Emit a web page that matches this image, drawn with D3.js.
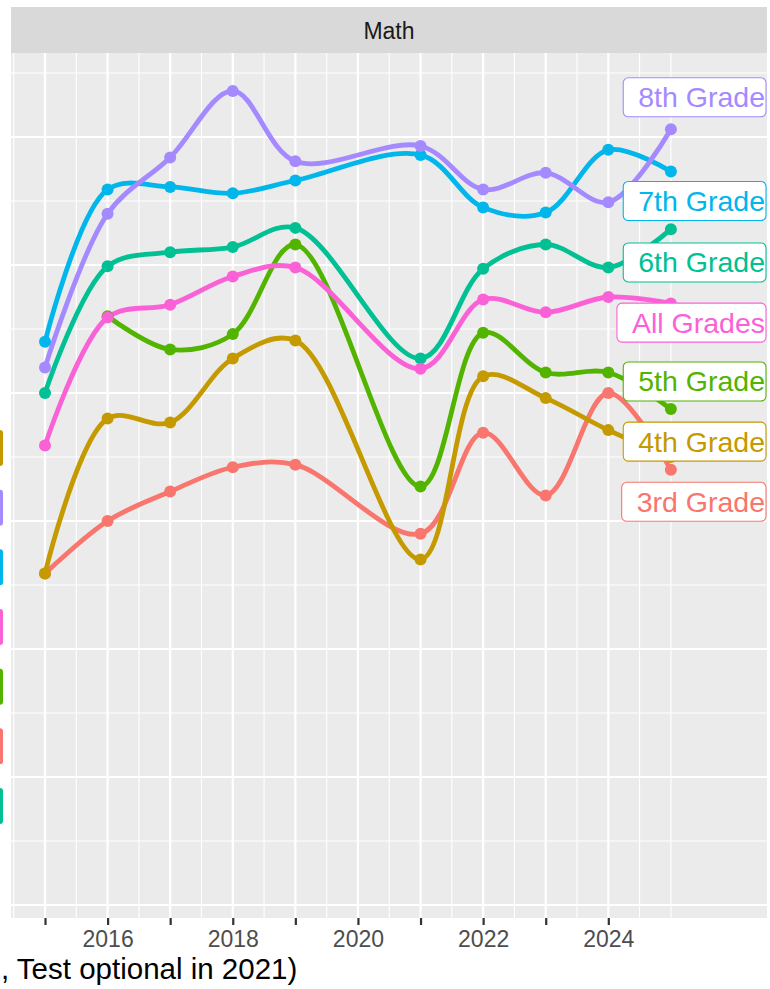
<!DOCTYPE html>
<html>
<head>
<meta charset="utf-8">
<script src="https://cdn.jsdelivr.net/npm/d3@7"></script>
<style>
  html, body { margin: 0; padding: 0; background: #ffffff; }
  svg { display: block; font-family: "Liberation Sans", Arial, Helvetica, sans-serif; }
</style>
</head>
<body>
<svg id="chart" width="770" height="989"></svg>
<script>
// ---------------- data ----------------
const years = [2015, 2016, 2017, 2018, 2019, 2021, 2022, 2023, 2024, 2025];
const seriesNames = ["3rd Grade", "4th Grade", "5th Grade", "6th Grade", "7th Grade", "8th Grade", "All Grades"];
const grade3 = [25.9, 30.0, 32.3, 34.2, 34.4, 29.0, 36.9, 32.0, 40.0, 34.0];
const grade4 = [25.9, 38.0, 37.7, 42.7, 44.1, 27.0, 41.3, 39.6, 37.1, 35.0];
const grade5 = [null, 46.0, 43.4, 44.6, 51.6, 32.7, 44.7, 41.6, 41.6, 38.75];
const grade6 = [40.0, 49.9, 51.0, 51.4, 52.9, 42.7, 49.7, 51.6, 49.8, 52.8];
const grade7 = [44.0, 55.9, 56.1, 55.6, 56.6, 58.6, 54.5, 54.1, 59.0, 57.3];
const grade8 = [42.0, 54.0, 58.4, 63.6, 58.1, 59.3, 55.9, 57.2, 54.9, 60.6];
const allGrades = [35.9, 45.9, 46.9, 49.1, 49.8, 41.9, 47.3, 46.3, 47.5, 47.0];
const seriesColors = ["#F8766D", "#C49A00", "#53B400", "#00C094", "#00B6EB", "#A58AFF", "#FB61D7"];
// repelled label positions (value units)
const labelValues = [31.5, 36.2, 40.9, 50.2, 55.0, 63.1, 45.5];
// legend order (as shown at left)
const legendOrder = ["4th Grade", "8th Grade", "7th Grade", "All Grades", "5th Grade", "3rd Grade", "6th Grade"];
const xTickYears = [2015, 2016, 2017, 2018, 2019, 2020, 2021, 2022, 2023, 2024];
const xMinorYears = [2014.5, 2015.5, 2016.5, 2017.5, 2018.5, 2019.5, 2020.5, 2021.5, 2022.5, 2023.5, 2024.5, 2025];
const yMajor = [0, 10, 20, 30, 40, 50, 60];
const yMinor = [5, 15, 25, 35, 45, 55, 65];
const facetTitle = "Math";
const captionText = ", Test optional in 2021)";

const seriesValues = [grade3, grade4, grade5, grade6, grade7, grade8, allGrades];

// ---------------- layout ----------------
const panel = { left: 11, right: 767, top: 53, bottom: 918 };
const strip = { top: 7, bottom: 53 };

const x = d3.scaleLinear().domain([2015, 2024]).range([45, 608.3]);
x.domain([x.invert(panel.left), x.invert(panel.right)]).range([panel.left, panel.right]);
const y = d3.scaleLinear().domain([0, 65]).range([905, 73]);
y.domain([y.invert(panel.bottom), y.invert(panel.top)]).range([panel.bottom, panel.top]);

const svg = d3.select("#chart");

// strip
svg.append("rect")
  .attr("x", panel.left).attr("y", strip.top)
  .attr("width", panel.right - panel.left).attr("height", strip.bottom - strip.top)
  .attr("fill", "#D9D9D9");
svg.append("text")
  .attr("x", (panel.left + panel.right) / 2).attr("y", 39)
  .attr("text-anchor", "middle").attr("font-size", 23).attr("fill", "#1A1A1A")
  .text(facetTitle);

// panel background
svg.append("rect")
  .attr("x", panel.left).attr("y", panel.top)
  .attr("width", panel.right - panel.left).attr("height", panel.bottom - panel.top)
  .attr("fill", "#EBEBEB");

const grid = svg.append("g");
// minor grid
grid.selectAll(".ymin").data(yMinor).join("line")
  .attr("x1", panel.left).attr("x2", panel.right)
  .attr("y1", d => y(d)).attr("y2", d => y(d))
  .attr("stroke", "#fff").attr("stroke-width", 1.1);
grid.selectAll(".xmin").data(xMinorYears).join("line")
  .attr("y1", panel.top).attr("y2", panel.bottom)
  .attr("x1", d => x(d)).attr("x2", d => x(d))
  .attr("stroke", "#fff").attr("stroke-width", 1.1);
// major grid
grid.selectAll(".ymaj").data(yMajor).join("line")
  .attr("x1", panel.left).attr("x2", panel.right)
  .attr("y1", d => y(d)).attr("y2", d => y(d))
  .attr("stroke", "#fff").attr("stroke-width", 2.2);
grid.selectAll(".xmaj").data(xTickYears).join("line")
  .attr("y1", panel.top).attr("y2", panel.bottom)
  .attr("x1", d => x(d)).attr("x2", d => x(d))
  .attr("stroke", "#fff").attr("stroke-width", 2.2);

// x axis
const xAxis = d3.axisBottom(x)
  .tickValues(xTickYears)
  .tickSize(7)
  .tickPadding(6)
  .tickFormat(d => (d % 2 === 0 ? String(d) : ""));
const gx = svg.append("g").attr("transform", `translate(0,${panel.bottom})`).call(xAxis);
gx.select(".domain").remove();
gx.selectAll(".tick line").attr("stroke", "#333333").attr("stroke-width", 2.2);
gx.selectAll(".tick text")
  .attr("fill", "#4D4D4D").attr("font-size", 23)
  .attr("font-family", "'Liberation Sans', Arial, sans-serif");
gx.selectAll(".tick text").filter(function () { return this.textContent === ""; }).remove();

// series
const series = seriesNames.map((name, i) => ({
  name,
  color: seriesColors[i],
  points: years.map((yr, j) => ({ year: yr, value: seriesValues[i][j] })).filter(p => p.value != null),
  labelValue: labelValues[i]
}));

const line = d3.line()
  .x(d => x(d.year))
  .y(d => y(d.value))
  .curve(d3.curveCatmullRom.alpha(0.5));

svg.append("clipPath").attr("id", "pclip").append("rect")
  .attr("x", panel.left).attr("y", panel.top)
  .attr("width", panel.right - panel.left).attr("height", panel.bottom - panel.top);

const gLines = svg.append("g").attr("clip-path", "url(#pclip)");
gLines.selectAll("path").data(series).join("path")
  .attr("d", d => line(d.points))
  .attr("fill", "none")
  .attr("stroke", d => d.color)
  .attr("stroke-width", 4.8)
  .attr("stroke-linejoin", "round")
  .attr("stroke-linecap", "round");

const gPts = svg.append("g");
series.forEach(s => {
  gPts.selectAll(null).data(s.points).join("circle")
    .attr("cx", d => x(d.year)).attr("cy", d => y(d.value))
    .attr("r", 6).attr("fill", s.color);
});

// labels
const gLab = svg.append("g");
series.forEach(s => {
  const g = gLab.append("g");
  const cy = y(s.labelValue);
  const rectSel = g.append("rect");
  const t = g.append("text")
    .attr("x", panel.right - 2).attr("y", cy).attr("dy", "0.35em")
    .attr("text-anchor", "end")
    .attr("font-size", 28.5).attr("fill", s.color)
    .text(s.name);
  const w = t.node().getComputedTextLength();
  rectSel
    .attr("x", panel.right - 2 - w - 15).attr("y", cy - 19.5)
    .attr("width", w + 16).attr("height", 39)
    .attr("rx", 5).attr("ry", 5)
    .attr("fill", "#ffffff").attr("stroke", s.color).attr("stroke-width", 1.1);
});

// legend keys (cropped at left edge)
const legendY = d3.scalePoint().domain(legendOrder).range([448, 806]);
svg.append("g").selectAll("rect").data(legendOrder).join("rect")
  .attr("x", -12).attr("y", d => legendY(d) - 18)
  .attr("width", 15).attr("height", 36)
  .attr("rx", 3).attr("ry", 3)
  .attr("fill", d => seriesColors[seriesNames.indexOf(d)]);

// caption (cropped)
svg.append("text")
  .attr("x", 1).attr("y", 979)
  .attr("font-size", 29.5).attr("fill", "#000000")
  .text(captionText);
</script>
</body>
</html>
